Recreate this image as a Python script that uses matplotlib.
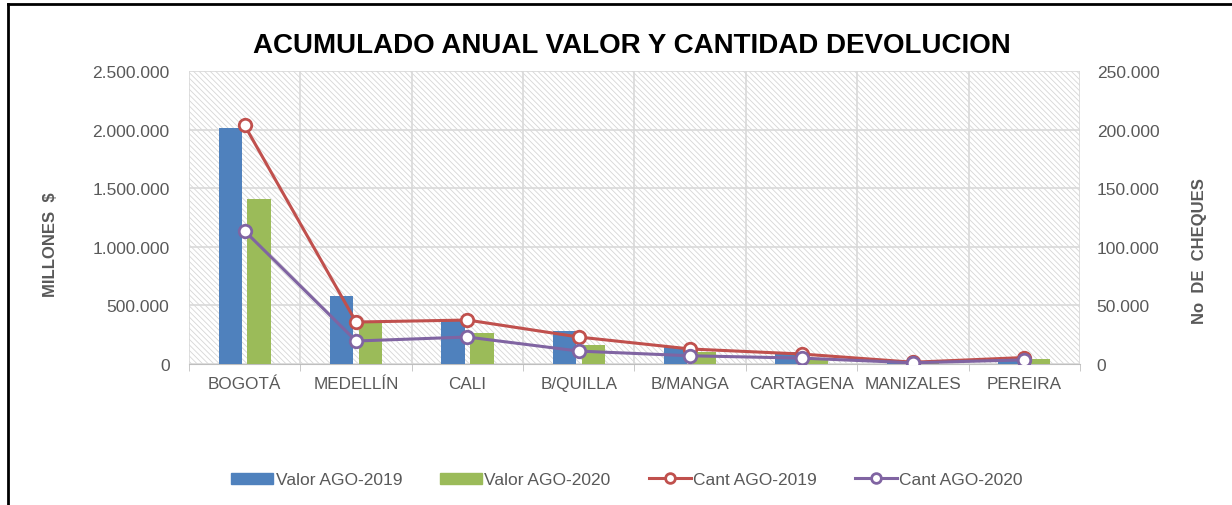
import numpy as np
import matplotlib.pyplot as plt
from matplotlib.patches import Rectangle
from matplotlib.lines import Line2D
from matplotlib.ticker import FuncFormatter

plt.rcParams['font.family'] = ['Liberation Sans', 'DejaVu Sans']
plt.rcParams['hatch.linewidth'] = 0.6

ciudades = ['BOGOTÁ', 'MEDELLÍN', 'CALI', 'B/QUILLA', 'B/MANGA', 'CARTAGENA', 'MANIZALES', 'PEREIRA']
valor_2019 = [2013000, 580000, 380000, 282000, 145000, 102000, 25000, 50000]
valor_2020 = [1410000, 367000, 265000, 162000, 102000, 43000, 10000, 40000]
cant_2019 = [203500, 35800, 37500, 23000, 12800, 8500, 1500, 5500]
cant_2020 = [113500, 19600, 23000, 11000, 7000, 5000, 1000, 3500]

azul = '#4F81BD'
verde = '#9BBB59'
rojo = '#C0504D'
morado = '#8064A2'
gris = '#595959'

def miles(v, pos):
    return f'{int(v):,}'.replace(',', '.')

fig = plt.figure(figsize=(12.32, 5.06), dpi=100)
ax = fig.add_axes([0.1534, 0.2787, 0.7232, 0.579])
x = np.arange(len(ciudades))

# fondo rayado
ax.patch.set_facecolor('white')
ax.add_patch(Rectangle((0, 0), 1, 1, transform=ax.transAxes, facecolor='none',
                       edgecolor='#d6d6d6', hatch='\\\\\\\\\\\\', lw=0, zorder=0))

ax.bar(x - 0.13, valor_2019, width=0.21, color=azul, zorder=3)
ax.bar(x + 0.13, valor_2020, width=0.21, color=verde, zorder=3)

ax.set_xlim(-0.5, len(ciudades) - 0.5)
ax.set_ylim(0, 2500000)
ax.set_yticks(np.arange(0, 2500001, 500000))
ax.yaxis.set_major_formatter(FuncFormatter(miles))
ax.set_xticks(x)
ax.set_xticklabels(ciudades)
ax.set_xticks(np.arange(-0.5, len(ciudades)), minor=True)
ax.tick_params(axis='x', which='major', length=0, pad=9, labelsize=12.3, labelcolor=gris)
ax.tick_params(axis='x', which='minor', length=5, color='#bfbfbf', direction='out')
ax.tick_params(axis='y', length=0, pad=14, labelsize=12.5, labelcolor=gris)
ax.grid(True, which='minor', axis='x', color='#d9d9d9', lw=1.2, zorder=1)
ax.grid(True, which='major', axis='y', color='#d9d9d9', lw=1.2, zorder=1)
ax.set_axisbelow(True)
for s in ['top', 'left', 'right']:
    ax.spines[s].set_visible(False)
ax.spines['bottom'].set_color('#bfbfbf')
ax.set_ylabel('MILLONES  $', fontsize=12, fontweight='bold', color=gris)
ax.yaxis.set_label_coords(-0.147, 0.41)

ax2 = ax.twinx()
ax2.plot(x, cant_2019, color=rojo, lw=2.2, marker='o', ms=9, mfc='white', mec=rojo, mew=2, zorder=4)
ax2.plot(x, cant_2020, color=morado, lw=2.2, marker='o', ms=9, mfc='white', mec=morado, mew=2, zorder=4)
ax2.set_ylim(0, 250000)
ax2.set_yticks(np.arange(0, 250001, 50000))
ax2.yaxis.set_major_formatter(FuncFormatter(miles))
ax2.tick_params(axis='y', length=0, pad=12, labelsize=12.5, labelcolor=gris)
for s in ax2.spines.values():
    s.set_visible(False)
ax2.set_ylabel('No  DE  CHEQUES', fontsize=12, fontweight='bold', color=gris)
ax2.yaxis.set_label_coords(1.126, 0.39)

fig.text(0.513, 0.91, 'ACUMULADO ANUAL VALOR Y CANTIDAD DEVOLUCION', ha='center', va='center',
         fontsize=20, fontweight='bold', color='black')

handles = [
    Rectangle((0, 0), 1, 1, color=azul),
    Rectangle((0, 0), 1, 1, color=verde),
    Line2D([], [], color=rojo, lw=2.2, marker='o', ms=7, mfc='white', mec=rojo, mew=2),
    Line2D([], [], color=morado, lw=2.2, marker='o', ms=7, mfc='white', mec=morado, mew=2),
]
fig.legend(handles, ['Valor AGO-2019', 'Valor AGO-2020', 'Cant AGO-2019', 'Cant AGO-2020'],
           loc='center', bbox_to_anchor=(0.509, 0.05), ncol=4, frameon=False,
           fontsize=12.5, labelcolor=gris, handlelength=2.4, handleheight=0.6,
           handletextpad=0.15, columnspacing=2.2)

# marco
fig.add_artist(Line2D([0.0065, 1], [0.99, 0.99], transform=fig.transFigure, color='black', lw=2))
fig.add_artist(Line2D([0.0065, 0.0065], [0, 0.99], transform=fig.transFigure, color='black', lw=2))

fig.savefig('out.png', dpi=100)
